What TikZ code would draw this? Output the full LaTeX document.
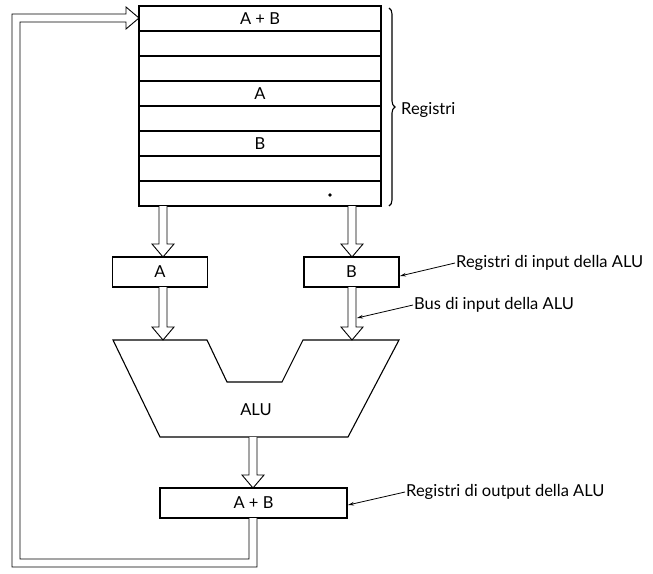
\documentclass[tikz,border=0pt]{standalone}
\usepackage{fontspec}
\setmainfont{Lato}
\usetikzlibrary{calc,decorations.pathreplacing,arrows.meta}
\tikzset{
  lw/.style={line width=1.1pt},
  txt/.style={font=\fontsize{16.5}{19}\selectfont},
  regrow/.style={draw,lw,minimum width=242pt,minimum height=25pt,inner sep=0pt,txt},
  smallbox/.style={draw,lw,minimum width=95pt,minimum height=30pt,inner sep=0pt,txt},
  outbox/.style={draw,lw,minimum width=187pt,minimum height=30pt,inner sep=0pt,txt},
  lbl/.style={anchor=west,inner sep=1pt,txt},
  bus/.style={draw,line width=0.9pt,fill=white},
  callout/.style={draw,line width=0.8pt,-{Stealth[length=6pt,width=3.5pt]}}
}
% vertical hollow bus arrow from coordinate #1 down to coordinate #2 (same x)
\newcommand\busdown[2]{%
  \path[bus] let \p1=(#1), \p2=(#2) in
    (\x1-4pt,\y1) -- (\x1-4pt,\y2+13pt) -- (\x1-11pt,\y2+13pt) -- (\x1,\y2)
    -- (\x1+11pt,\y2+13pt) -- (\x1+4pt,\y2+13pt) -- (\x1+4pt,\y1);}
\begin{document}
\begin{tikzpicture}[x=1pt,y=-1pt]
\useasboundingbox (0,0) rectangle (653,573);
% register file
\node[regrow] (r1) at (260,18.5) {A + B};
\node[regrow] (r2) at (260,43.5) {};
\node[regrow] (r3) at (260,68.5) {};
\node[regrow] (r4) at (260,93.5) {A};
\node[regrow] (r5) at (260,118.5) {};
\node[regrow] (r6) at (260,143.5) {B};
\node[regrow] (r7) at (260,168.5) {};
\node[regrow] (r8) at (260,193.5) {};
\fill (330,195) circle (1.8pt);
% brace
\draw[lw,decorate,decoration={brace,amplitude=6pt}] (389,8) -- (389,206);
\node[lbl] (reglbl) at (400,110) {Registri};
% input registers
\node[smallbox] (A) at (160,272) {A};
\node[smallbox] (B) at (351.5,272) {B};
% ALU
\coordinate (p1) at (113,340);
\coordinate (p2) at (207,340);
\coordinate (p3) at (227,382);
\coordinate (p4) at (282,382);
\coordinate (p5) at (303,340);
\coordinate (p6) at (399,340);
\coordinate (p7) at (348,437);
\coordinate (p8) at (160,437);
\draw[lw] (p1) -- (p2) -- (p3) -- (p4) -- (p5) -- (p6) -- (p7) -- (p8) -- cycle;
\node[txt] (alu) at (256,410) {ALU};
% output register
\node[outbox] (O) at (253.5,503) {A + B};
% buses
\coordinate (rbl) at (163,206);
\coordinate (rbr) at (352,206);
\coordinate (atop) at (163,257);
\coordinate (btop) at (352,257);
\coordinate (abot) at (163,287);
\coordinate (bbot) at (352,287);
\coordinate (alua) at (163,340);
\coordinate (alub) at (352,340);
\coordinate (aluo) at (253,437);
\coordinate (otop) at (253,488);
\busdown{rbl}{atop}
\busdown{rbr}{btop}
\busdown{abot}{alua}
\busdown{bbot}{alub}
\busdown{aluo}{otop}
% feedback bus
\coordinate (obot) at (253,518);
\coordinate (rin) at (139,18);
\path[bus] (obot) ++(4,0) -- (257,567) -- (12,567) -- (12,14) -- (126,14) -- (126,7)
  -- (rin) -- (126,29) -- (126,22) -- (20,22) -- (20,559) -- (249,559) -- (249,518);
% callouts
\node[lbl] (l1) at (455,263) {Registri di input della ALU};
\node[lbl] (l2) at (413,305) {Bus di input della ALU};
\node[lbl] (l3) at (405,492) {Registri di output della ALU};
\coordinate (bt) at (400,276);
\coordinate (bs) at (357,318);
\coordinate (ot) at (348,505);
\draw[callout] (l1.west) -- (bt);
\draw[callout] (l2.west) -- (bs);
\draw[callout] (l3.west) -- (ot);
\end{tikzpicture}
\end{document}
